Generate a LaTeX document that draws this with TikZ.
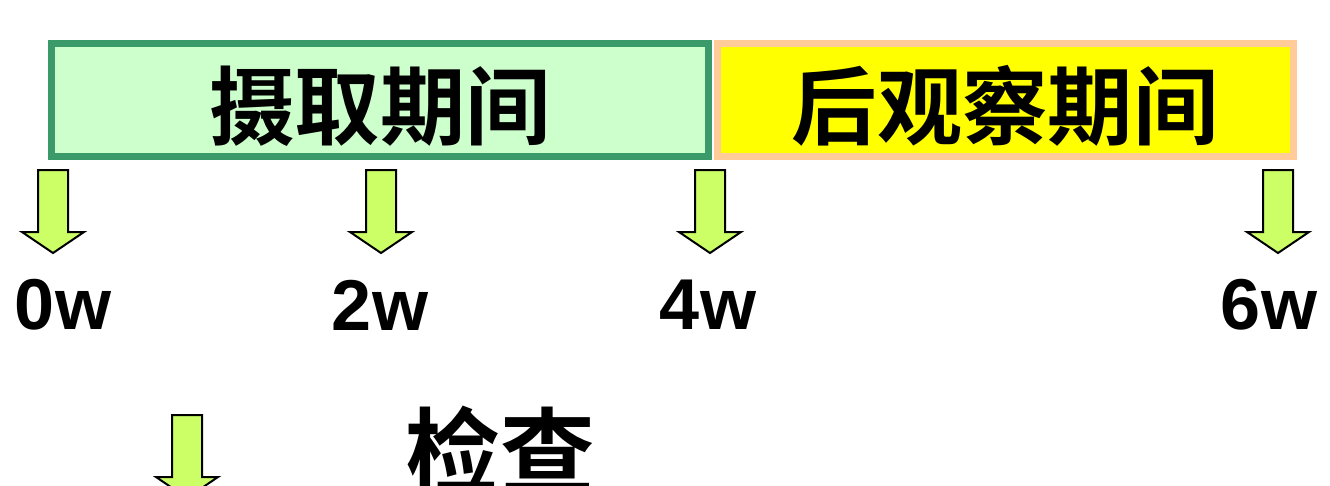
\documentclass[tikz,border=0pt]{standalone}
\usepackage{fontspec}
\setmainfont{Liberation Sans}
\newfontfamily\cjk{Noto Sans CJK SC}[BoldFont={Noto Sans CJK SC Bold}]
\usetikzlibrary{positioning}

\definecolor{intakefill}{HTML}{CCFFCC}
\definecolor{intakeline}{HTML}{3A9A6A}
\definecolor{watchfill}{HTML}{FFFF00}
\definecolor{watchline}{HTML}{FFCC99}
\definecolor{arrowfill}{HTML}{CCFF66}

\begin{document}
\begin{tikzpicture}[
    x=0.75pt, y=-0.75pt, % pixel grid, y downwards
    % Styles
    phase/.style={ % period boxes
        rectangle,
        line width=5.25pt,
        minimum height=84.75pt,
        inner sep=0pt,
        font=\cjk\bfseries\fontsize{64}{64}\selectfont
    },
    tick/.style={ % week labels
        inner sep=0pt,
        font=\bfseries\fontsize{54}{54}\selectfont
    },
    dnarrow/.pic={ % block arrow pointing down
        \draw[fill=arrowfill, line width=1.5pt, line join=miter]
            (-15,0) -- (15,0) -- (15,62) -- (31,62) -- (0,83)
            -- (-31,62) -- (-15,62) -- cycle;
    }
]
    \useasboundingbox (0,0) rectangle (1330,485);

    % Period boxes
    \node [phase, fill=intakefill, draw=intakeline, minimum width=493.1pt]
        (intake) at (380.25,100) {\raisebox{-29pt}[0pt][0pt]{摄取期间}};
    \node [phase, fill=watchfill, draw=watchline, minimum width=432pt]
        (watch) at (1005,100) {\raisebox{-29pt}[0pt][0pt]{后观察期间}};

    % Arrows and week labels
    \pic at (53,170) {dnarrow};
    \pic at (381,170) {dnarrow};
    \pic at (710,170) {dnarrow};
    \pic at (1278,170) {dnarrow};
    \node [tick] (w0) at (63,305) {0w};
    \node [tick] (w2) at (380,305) {2w};
    \node [tick] (w4) at (708,305) {4w};
    \node [tick] (w6) at (1269,305) {6w};

    % Check
    \pic at (187,415) {dnarrow};
    \node [inner sep=0pt, font=\cjk\bfseries\fontsize{71}{71}\selectfont]
        (check) at (500,451) {检查};
\end{tikzpicture}
\end{document}
